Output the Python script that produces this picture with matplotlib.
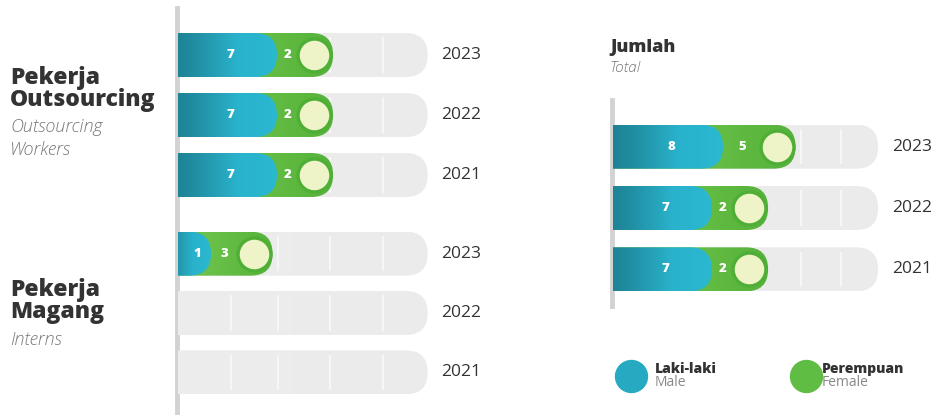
import matplotlib
matplotlib.use('Agg')
import matplotlib.pyplot as plt
import numpy as np
from matplotlib.patches import FancyBboxPatch
from matplotlib.lines import Line2D
from matplotlib.colors import LinearSegmentedColormap

# ---------------- data ----------------
years = ['2023', '2022', '2021']
outsourcing_male = [7, 7, 7]
outsourcing_female = [2, 2, 2]
intern_male = [1, 0, 0]
intern_female = [3, 0, 0]
total_male = [8, 7, 7]
total_female = [5, 2, 2]

# ---------------- style ----------------
W, H = 942, 416
UNIT = 11.0          # pixels per value unit
BAR_PX = 44.0        # bar thickness in pixels
FONT = 'Open Sans'

blue_cmap = LinearSegmentedColormap.from_list('b', ['#1b7585', '#218fa3', '#29b2cb', '#2bb8d1'])
green_cmap = LinearSegmentedColormap.from_list('g', ['#76c752', '#69c048', '#55b23a'])
gray_cmap = LinearSegmentedColormap.from_list('k', ['#ededed', '#ebebeb'])

fig = plt.figure(figsize=(W / 100, H / 100), dpi=100)


def fx(px):
    return px / W


def fy(px):
    return 1 - px / H


def make_axes(left, top, bottom, xmax, unit):
    ax = fig.add_axes([fx(left), fy(bottom), xmax * unit / W, (bottom - top) / H])
    ax.set_xlim(0, xmax)
    ax.set_ylim(len(years) - 0.5, -0.5)
    ax.axis('off')
    ax._ppy = (bottom - top) / len(years)
    ax._ppx = unit
    ax._xmax = xmax
    return ax


def rbar(ax, x0, x1, y, cmap, z):
    h = BAR_PX / ax._ppy
    aspect = ax._ppx / ax._ppy
    r = BAR_PX / 2 / ax._ppx
    patch = FancyBboxPatch((x0, y - h / 2), x1 - x0, h,
                           boxstyle=f'round,pad=0,rounding_size={r}',
                           mutation_aspect=aspect, facecolor='none',
                           edgecolor='none', zorder=z)
    ax.add_patch(patch)
    grad = np.linspace(0, 1, 256).reshape(1, -1)
    im = ax.imshow(grad, extent=[x0, x1, y + h / 2, y - h / 2], cmap=cmap,
                   aspect='auto', zorder=z, interpolation='bilinear')
    im.set_clip_path(patch)
    ax.set_xlim(0, ax._xmax)
    ax.set_ylim(len(years) - 0.5, -0.5)
    return h


def draw_panel(ax, male, female, gray_end, seps, label_x):
    cap = BAR_PX / 2 / ax._ppx
    for i, yr in enumerate(years):
        h = rbar(ax, -cap, gray_end, i, gray_cmap, 1)
        for s in seps:
            ax.plot([s, s], [i - h * 0.40, i + h * 0.40], color='#fafafa',
                    lw=1.4, alpha=0.8, zorder=1.5, solid_capstyle='butt')
        ax.text(label_x, i, yr, ha='left', va='center', fontsize=12.5,
                color='#333333', family=FONT, clip_on=False)
        b, g = male[i], female[i]
        if b + g == 0:
            continue
        blue_end = b + cap
        circ = blue_end + 2.4 + 0.5 * g
        rbar(ax, -cap, circ + cap * 0.85, i, green_cmap, 2)
        rbar(ax, -cap, blue_end, i, blue_cmap, 3)
        ax.scatter([circ], [i], s=560, facecolor='#eef4c8', edgecolor='#4fae35',
                   linewidth=2.4, zorder=4)
        ax.text(blue_end / 2 + 0.3, i, str(b), ha='center', va='center', color='white',
                fontsize=9.5, fontweight='heavy', family=FONT, zorder=5)
        ax.text((blue_end + circ - 1.4) / 2, i, str(g), ha='center', va='center',
                color='white', fontsize=9.5, fontweight='heavy', family=FONT, zorder=5)


# vertical guide lines
fig.add_artist(Line2D([fx(177), fx(177)], [fy(8), fy(412)], color='#d2d2d2', lw=3.5, zorder=0))
fig.add_artist(Line2D([fx(612), fx(612)], [fy(100), fy(306)], color='#d2d2d2', lw=3.5, zorder=0))

ax1 = make_axes(178, 25, 205, 24.0, UNIT)
draw_panel(ax1, outsourcing_male, outsourcing_female, 22.7, [4.8, 9.1, 13.8, 18.6], 23.9)

ax2 = make_axes(178, 224, 402, 24.0, UNIT)
draw_panel(ax2, intern_male, intern_female, 22.7, [4.8, 9.1, 13.8, 18.6], 23.9)

ax3 = make_axes(613, 116, 300, 25.0, UNIT)
draw_panel(ax3, total_male, total_female, 24.1, [9.9, 13.5, 17.1, 20.7], 25.4)

# ---------------- texts ----------------
def bold(x, y, s, size=16.5):
    fig.text(fx(x), fy(y), s, ha='left', va='top', fontsize=size, fontweight='heavy',
             color='#333333', family=FONT, linespacing=0.9)


def ital(x, y, s, size=13):
    fig.text(fx(x), fy(y), s, ha='left', va='top', fontsize=size, style='italic',
             fontweight='light', color='#777777', family=FONT, linespacing=1.35)


bold(10, 66, 'Pekerja\nOutsourcing')
ital(10, 118, 'Outsourcing\nWorkers')
bold(10, 278, 'Pekerja\nMagang')
ital(10, 331, 'Interns')
bold(610, 39, 'Jumlah', size=13)
ital(610, 61, 'Total', size=11)

# legend
fig.add_artist(Line2D([fx(631)], [fy(376)], marker='o', markersize=23,
                      markerfacecolor='#27a9c2', markeredgecolor='#27a9c2', lw=0))
fig.add_artist(Line2D([fx(806)], [fy(376)], marker='o', markersize=23,
                      markerfacecolor='#5fbd43', markeredgecolor='#5fbd43', lw=0))
fig.text(fx(655), fy(362), 'Laki-laki', ha='left', va='top', fontsize=10,
         fontweight='heavy', color='#333333', family=FONT)
fig.text(fx(655), fy(375), 'Male', ha='left', va='top', fontsize=10,
         color='#888888', family=FONT)
fig.text(fx(822), fy(362), 'Perempuan', ha='left', va='top', fontsize=10,
         fontweight='heavy', color='#333333', family=FONT)
fig.text(fx(822), fy(375), 'Female', ha='left', va='top', fontsize=10,
         color='#888888', family=FONT)

fig.savefig('out.png', dpi=100, facecolor='white')
